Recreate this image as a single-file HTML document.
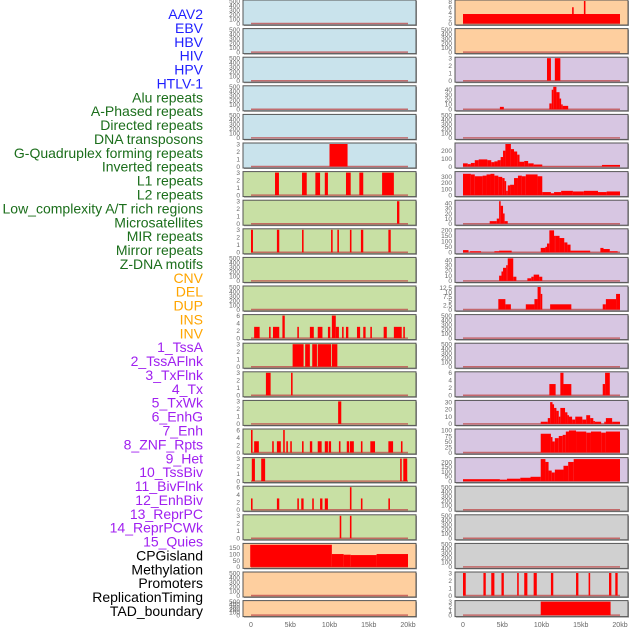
<!DOCTYPE html>
<html><head><meta charset="utf-8"><style>
html,body{margin:0;padding:0;background:#fff;}
svg{display:block;font-family:"Liberation Sans",sans-serif;}
</style></head><body>
<svg id="chart" width="630" height="630" viewBox="0 0 630 630"></svg>
<script>
const labels = ["AAV2","EBV","HBV","HIV","HPV","HTLV-1","Alu repeats","A-Phased repeats","Directed repeats","DNA transposons","G-Quadruplex forming repeats","Inverted repeats","L1 repeats","L2 repeats","Low_complexity A/T rich regions","Microsatellites","MIR repeats","Mirror repeats","Z-DNA motifs","CNV","DEL","DUP","INS","INV","1_TssA","2_TssAFlnk","3_TxFlnk","4_Tx","5_TxWk","6_EnhG","7_Enh","8_ZNF_Rpts","9_Het","10_TssBiv","11_BivFlnk","12_EnhBiv","13_ReprPC","14_ReprPCWk","15_Quies","CPGisland","Methylation","Promoters","ReplicationTiming","TAD_boundary"];
const labelGroups = ["v","v","v","v","v","v","g","g","g","g","g","g","g","g","g","g","g","g","g","o","o","o","o","o","p","p","p","p","p","p","p","p","p","p","p","p","p","p","p","k","k","k","k","k"];
const xTickVals = [0,5,10,15,20];
const xTickText = ["0","5kb","10kb","15kb","20kb"];
const E=[0,100,200,300,400,500], T3=[0,1,2,3], T6=[0,2,4,6];
const leftTicks = [E,E,E,E,E,T3,T3,T3,T3,E,E,T6,T3,T3,T3,T6,T3,T6,T3,[0,50,100,150],E,E];
const leftMax = [500,500,500,500,500,3,3,3,3,500,500,6,3,3,3,6,3,6,3,175,500,500];
const leftSegs = [[],[],[],[],[],
 [[10,12.3,3]],
 [[3.06,3.56,3],[6.5,7.1,3],[8.2,8.8,3],[9.4,9.8,3],[12.1,12.7,3],[13.8,14.3,3],[16.7,18.2,3]],
 [[18.6,18.9,3]],
 [[0,0.25,3],[3.3,3.6,3],[6.5,6.7,3],[10.2,10.4,3],[11,11.2,3],[12.6,12.8,3],[14,14.3,3],[17.5,17.8,3]],
 [],[],
 [[0.4,1.1,3],[2.3,2.5,3],[2.8,3.6,3],[4,4.3,6],[5.9,6.1,3],[7.5,8,3],[8.5,9.1,3],[9.8,10.1,3],[10.3,10.8,6],[10.8,11.2,3],[11.6,11.8,3],[12.1,12.4,3],[13.5,13.9,3],[14.3,14.6,3],[15.2,15.4,3],[16.9,17.3,3],[18.2,19.2,3],[19.4,19.6,3]],
 [[5.3,6.7,3],[6.9,7.5,3],[7.8,8.4,3],[8.5,10.2,3],[10.3,11,3]],
 [[1.9,2.5,3],[5.1,5.3,3]],
 [[11.1,11.5,3]],
 [[0,0.2,6],[0.4,1,3],[2.7,2.9,3],[3.3,3.8,3],[4.1,4.3,6],[4.5,4.7,3],[5,5.2,3],[6.5,6.7,3],[7.5,7.8,3],[8.5,9,3],[9.4,9.8,3],[9.9,10.2,3],[11.2,11.4,3],[12.2,12.5,3],[12.6,13.1,3],[14,14.2,3],[15.2,15.8,3],[17.5,18.1,3],[19.1,19.3,3]],
 [[0.1,0.5,3],[1.3,1.8,3],[19,19.2,3],[19.4,19.9,3]],
 [[0,0.2,3],[3.3,3.6,3],[5.9,6.1,3],[6.4,6.7,3],[7.8,8,3],[8.8,9.1,3],[9.4,9.8,3],[12.6,12.8,6],[14,14.2,3],[17.5,17.7,3]],
 [[11.3,11.5,3],[12.6,12.8,3]],
 [[-0.1,10.3,172],[10.3,11.8,100],[11.8,12.7,95],[12.7,16,92],[16,20,100]],
 [],[]];
const rightTicks = [[0,2,4,6,8],E,T3,[0,10,20,30,40],E,[0,100,200],[0,100,200,300],[0,10,20,30,40],[0,50,100,150,200],[0,10,20,30,40],[0,2.5,5,7.5,10,12.5],E,E,T6,[0,10,20,30],[0,25,50,75,100],[0,50,100,150,200],E,E,E,T3,T3];
const rightMax = [8.3,500,3,46,500,285,370,44,205,43,13,500,500,6,31,102,235,500,500,500,3,3];
const rightSegs = [
 [[0,20,3.5],[13.9,14.1,6],[15.4,15.6,8.3]],
 [],
 [[10.7,11.2,3],[11.7,12.4,3]],
 [[4.7,5.2,5],[11,11.3,12],[11.3,11.5,40],[11.5,11.9,46],[11.9,12.3,35],[12.3,12.5,22],[12.5,12.7,10],[12.7,13.4,7]],
 [],
 [[0,0.6,40],[0.6,1,30],[1,1.5,45],[1.5,2,80],[2,3.1,90],[3.1,3.6,80],[3.6,4,55],[4,4.4,65],[4.4,4.8,80],[4.8,5.1,120],[5.1,5.4,200],[5.4,6.1,285],[6.1,6.5,220],[6.5,6.9,190],[6.9,7.2,150],[7.2,7.8,60],[7.8,8.3,70],[8.3,9,40],[9,10.1,25],[10.1,17.7,2],[17.7,20,20]],
 [[0,1,350],[1,1.5,340],[1.5,2.5,310],[2.5,3,320],[3,3.5,340],[3.5,4,350],[4,4.5,320],[4.5,5,300],[5,5.3,280],[5.3,5.5,230],[5.5,5.7,70],[5.7,6,160],[6,6.5,170],[6.5,7,280],[7,7.5,320],[7.5,8,310],[8,9.5,340],[9.5,10.1,310],[10.1,11.2,50],[11.2,11.6,30],[11.6,12.5,50],[12.5,14,70],[14,15.4,60],[15.4,17.2,70],[17.2,18.3,50],[18.3,20,60]],
 [[3.4,4.3,5],[4.3,4.6,10],[4.6,4.8,44],[4.8,5.1,35],[5.1,5.3,20],[5.3,5.7,5]],
 [[0,0.7,20],[0.9,2.3,10],[4,4.6,10],[4.6,6.2,15],[9.9,10.5,40],[10.5,10.7,50],[10.7,11,80],[11,11.6,200],[11.6,11.8,150],[11.8,12.3,150],[12.3,12.9,130],[12.9,13.3,90],[13.3,13.7,70],[13.7,16.2,15],[17.5,17.9,40],[17.9,18.7,30],[18.7,19.7,10]],
 [[4.6,4.9,10],[4.9,5.1,18],[5.1,5.5,25],[5.5,5.7,30],[5.7,6.4,43],[6.4,6.8,8],[8.2,8.7,5],[8.7,9,8],[9,9.7,12],[9.7,10.1,8]],
 [[4.5,5.4,6],[5.4,6.1,3],[8,9.1,3],[9.1,9.5,6],[9.5,9.9,13],[9.9,10.1,9],[11.1,13.8,3],[17.8,18.2,3],[18.2,19.5,6],[19.5,20,9]],
 [],[],
 [[11,11.8,3],[12.4,12.8,6],[12.8,13.8,3],[17.8,18.1,3],[18.1,18.7,6]],
 [[9.9,10.8,3],[10.8,11.1,8],[11.1,11.4,30],[11.4,11.6,27],[11.6,11.9,22],[11.9,12.2,18],[12.2,12.4,10],[12.4,13,22],[13,13.3,16],[13.3,13.5,12],[13.5,13.9,10],[13.9,14.3,6],[14.3,15.2,10],[15.2,15.7,6],[15.7,16.2,12],[16.2,16.6,8],[16.6,16.8,4],[16.8,17.6,3],[18,18.2,3],[18.2,19,8],[19,20,3]],
 [[9.9,11.2,85],[11.2,11.4,70],[11.4,11.7,50],[11.7,12.2,65],[12.2,12.7,75],[12.7,13.1,80],[13.1,13.5,95],[13.5,14.4,100],[14.4,15.7,95],[15.7,16.3,90],[16.3,17.6,95],[17.6,18.2,90],[18.2,20,95]],
 [[0,4.7,20],[4.7,5.6,15],[5.6,7.3,25],[7.3,8.6,35],[8.6,9.9,45],[9.9,10.5,230],[10.5,10.9,200],[10.9,11.3,110],[11.3,11.7,90],[11.7,12.8,120],[12.8,13.4,160],[13.4,14.1,200],[14.1,20,230]],
 [],[],[],
 [[0,0.35,3],[2.6,2.9,3],[3.6,4,3],[4.9,5.2,3],[6.9,7.1,3],[7.8,8.2,3],[9,9.4,3],[11.2,11.5,3],[14.4,14.7,3],[16,16.2,3],[18.6,18.9,3],[19.4,19.7,3]],
 [[9.9,18.8,3]]];
const leftBg = ["b","b","b","b","b","b","g","g","g","g","g","g","g","g","g","g","g","g","g","p","p","p"];
const rightBg = ["p","p","l","l","l","l","l","l","l","l","l","l","l","l","l","l","l","y","y","y","y","y"];

const NS="http://www.w3.org/2000/svg";
const svg=document.getElementById('chart');
function mk(tag,attrs,parent){const e=document.createElementNS(NS,tag);for(const k in attrs)e.setAttribute(k,attrs[k]);(parent||svg).appendChild(e);return e;}
const bgCol={b:"#c9e3ec",g:"#c8e0a4",p:"#fecf9f",l:"#d7c6e2",y:"#d0d0d0"};
const grpCol={v:"#1f1fff",g:"#1b6e1b",o:"#ffa500",p:"#a020f0",k:"#000000"};
const pitch=28.6;
function rowTop(i){return i*pitch;}
function rowH(i){return i===21?16:25;}

const lg=mk('g',{});


const lstep=(611-14)/(labels.length-1);
labels.forEach((t,i)=>{
  const e=mk('text',{x:203,y:14+i*lstep+5,'text-anchor':'end','font-size':14,fill:grpCol[labelGroups[i]]},lg);
  e.textContent=t;
  
  
});

function drawCol(side,fx,ticks,maxs,segs,bgs){
  const x0=fx+8, kbpx=7.85;
  const xs=kb=>x0+kb*kbpx;
  const col=mk('g',{});
  
  
  for(let i=0;i<22;i++){
    const T=rowTop(i),H=rowH(i);
    const yb=T+H-1.5, yt=T+1;
    const ys=v=>yb-(v/maxs[i])*(yb-yt);
    const g=mk('g',{},col);
    
    
    mk('rect',{x:fx+1,y:T+1,width:173,height:H,fill:'#999'},g);
    const fr=mk('rect',{x:fx,y:T,width:173,height:H,fill:bgCol[bgs[i]],stroke:'#555','stroke-width':1},g);
    
    
    const bl=mk('line',{x1:xs(0),x2:xs(20),y1:yb,y2:yb,stroke:'#c05050','stroke-width':1.5,opacity:0.8},g);
    
    
    segs[i].forEach(s=>{
      const r=mk('rect',{x:xs(s[0]),y:ys(s[2]),width:Math.max(0.8,xs(s[1])-xs(s[0])),height:yb-ys(s[2]),fill:'#ff0000'},g);
      
      
    });
    ticks[i].forEach(v=>{
      const tt=mk('text',{x:fx-3,y:ys(v)+2.3,'text-anchor':'end','font-size':6.5,fill:'#666'},g);
      tt.textContent=String(v);
      
      
    });
  }
  xTickVals.forEach((v,k)=>{
    const t=mk('text',{x:xs(v),y:627,'text-anchor':'middle','font-size':7,fill:'#666'},col);
    t.textContent=xTickText[k];
    
    
  });
}
drawCol('left',243,leftTicks,leftMax,leftSegs,leftBg);
drawCol('right',455,rightTicks,rightMax,rightSegs,rightBg);
</script>
</body></html>
